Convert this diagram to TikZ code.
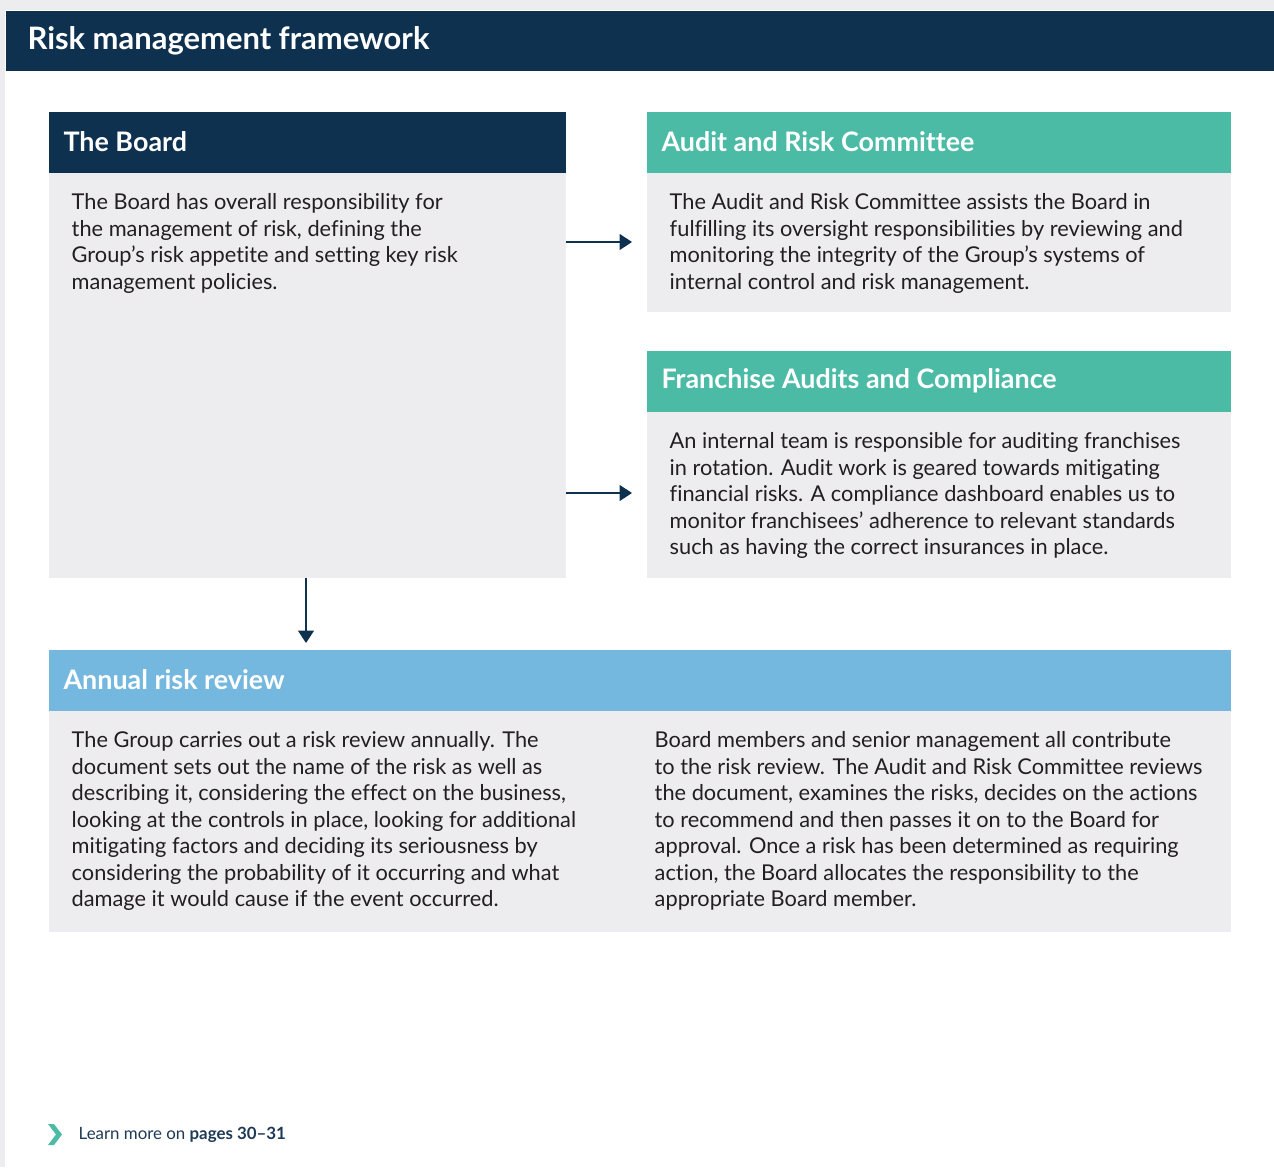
\documentclass[tikz,border=0pt]{standalone}
\usepackage{fontspec}
\setmainfont{Lato}[Ligatures=NoCommon]
\usepackage{tikz}
\usetikzlibrary{arrows.meta,positioning,calc}

\definecolor{navy}{HTML}{0F3150}
\definecolor{teal}{HTML}{4BBBA6}
\definecolor{sky}{HTML}{74B8E0}
\definecolor{panel}{HTML}{EDEDEF}
\definecolor{page}{HTML}{EDEDEF}
\definecolor{ink}{HTML}{231F20}
\definecolor{footink}{HTML}{1F3A56}

\begin{document}
\begin{tikzpicture}[x=0.02cm, y=-0.02cm, thick]
  \tikzstyle{head} = [rectangle, anchor=north west, inner sep=0pt, text=white, font=\bfseries\fontsize{15}{18}\selectfont]
  \tikzstyle{body} = [rectangle, anchor=north west, inner sep=0pt, fill=panel]
  \tikzstyle{htxt} = [anchor=west, text=white, font=\bfseries\fontsize{15.3}{18}\selectfont]
  \tikzstyle{txt} = [anchor=north west, inner sep=0pt, align=left, text=ink, font=\fontsize{12.4}{15.1}\selectfont]
  \tikzstyle{link} = [draw=navy, line width=0.85pt, -{Triangle[length=2.5mm, width=3.2mm]}]

  % page
  \fill[page] (0,0) rectangle (1274,1167);
  \fill[white] (5,10) rectangle (1274,1167);
  \useasboundingbox (0,0) rectangle (1274,1167);

  % title bar
  \node[head, fill=navy, minimum width=1269*0.02cm, minimum height=60*0.02cm] (title) at (5,10) {};
  \node[anchor=west, text=white, font=\bfseries\fontsize{17.6}{21}\selectfont] (titletxt) at (21,41) {Risk management framework};

  % the board
  \node[head, fill=navy, minimum width=517*0.02cm, minimum height=61*0.02cm] (board) at (48,111) {};
  \node[body, minimum width=517*0.02cm, minimum height=405*0.02cm] (boardbody) at (48,172) {};
  \node[htxt] at (57,142) {The Board};
  \node[txt] (boardtxt) at (71,193) {The Board has overall responsibility for\\the management of risk, defining the\\Group’s risk appetite and setting key risk\\management policies.};

  % audit and risk committee
  \node[head, fill=teal, minimum width=584*0.02cm, minimum height=61*0.02cm] (arc) at (646,111) {};
  \node[body, minimum width=584*0.02cm, minimum height=139*0.02cm] (arcbody) at (646,172) {};
  \node[htxt] at (655,142) {Audit and Risk Committee};
  \node[txt] (arctxt) at (669,193) {The Audit and Risk Committee assists the Board in\\fulfilling its oversight responsibilities by reviewing and\\monitoring the integrity of the Group’s systems of\\internal control and risk management.};

  % franchise audits
  \node[head, fill=teal, minimum width=584*0.02cm, minimum height=61*0.02cm] (fac) at (646,350) {};
  \node[body, minimum width=584*0.02cm, minimum height=166*0.02cm] (facbody) at (646,411) {};
  \node[htxt] at (655,381) {Franchise Audits and Compliance};
  \node[txt] (factxt) at (669,432) {An internal team is responsible for auditing franchises\\in rotation. Audit work is geared towards mitigating\\financial risks. A compliance dashboard enables us to\\monitor franchisees’ adherence to relevant standards\\such as having the correct insurances in place.};

  % annual risk review
  \node[head, fill=sky, minimum width=1182*0.02cm, minimum height=61*0.02cm] (annual) at (48,649) {};
  \node[body, minimum width=1182*0.02cm, minimum height=221*0.02cm] (annualbody) at (48,710) {};
  \node[htxt] at (57,680) {Annual risk review};
  \node[txt] (annualtxtl) at (71,731) {The Group carries out a risk review annually. The\\document sets out the name of the risk as well as\\describing it, considering the effect on the business,\\looking at the controls in place, looking for additional\\mitigating factors and deciding its seriousness by\\considering the probability of it occurring and what\\damage it would cause if the event occurred.};
  \node[txt] (annualtxtr) at (654,731) {Board members and senior management all contribute\\to the risk review. The Audit and Risk Committee reviews\\the document, examines the risks, decides on the actions\\to recommend and then passes it on to the Board for\\approval. Once a risk has been determined as requiring\\action, the Board allocates the responsibility to the\\appropriate Board member.};

  % arrows
  \coordinate (arcin) at (632,242);
  \coordinate (facin) at (632,493);
  \coordinate (annualin) at (306,643);
  \draw[link] (boardbody.east |- arcin) -- (arcin);
  \draw[link] (boardbody.east |- facin) -- (facin);
  \draw[link] (boardbody.south -| annualin) -- (annualin);

  % footer
  \fill[teal] (48,1124) -- (54,1124) -- (62,1134.5) -- (54,1145) -- (48,1145) -- (56,1134.5) -- cycle;
  \node[anchor=west, inner sep=0pt, text=footink, font=\fontsize{9.6}{11}\selectfont] (footer) at (78,1135) {Learn more on \textbf{pages 30–31}};
\end{tikzpicture}
\end{document}
